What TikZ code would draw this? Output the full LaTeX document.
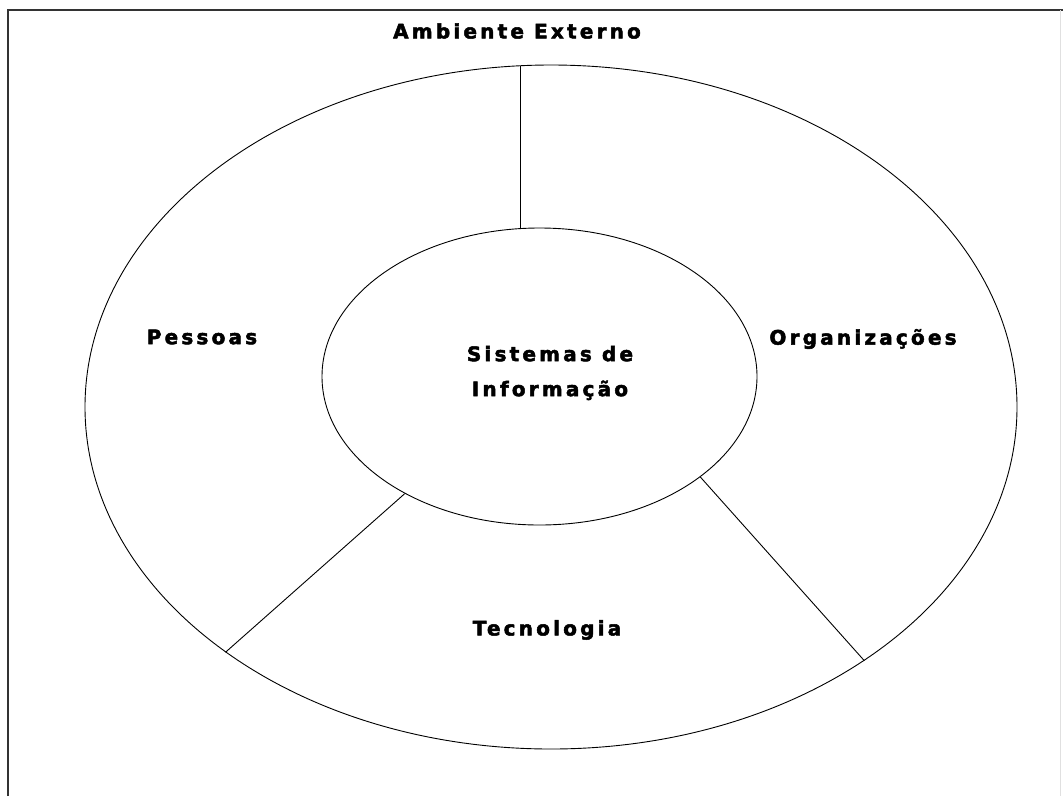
\documentclass[tikz,border=0pt]{standalone}
\usepackage{fontspec}
\setmainfont{Liberation Sans}
\newfontfamily\labelfont[LetterSpace=16,FakeBold=2.5]{DejaVu Sans Bold}
\usetikzlibrary{shapes.geometric}
\begin{document}
\begin{tikzpicture}[x=1pt,y=-1pt,
  ring/.style={draw=black,line width=0.9pt,ellipse,inner sep=0pt},
  lbl/.style={font=\labelfont\fontsize{20}{35}\selectfont,align=center,inner sep=0pt,text=black},
  divider/.style={draw=black,line width=0.9pt}]
  \useasboundingbox (0,0) rectangle (1063,796);
  % frame
  \draw[line width=1.4pt,black!80] (8,796) -- (8,10) -- (1063,10);
  \draw[line width=0.8pt,black!12] (1060,10) -- (1060,796);
  % rings
  \node[ring,minimum width=932pt,minimum height=684pt] (outer) at (551,407) {};
  \node[ring,minimum width=435pt,minimum height=297pt] (inner) at (539.5,376.5) {};
  % dividers between the outer sectors
  \coordinate (topo) at (520,66);
  \coordinate (topi) at (520,228.5);
  \draw[divider] (topo) -- (topi);
  \draw[divider] (inner.221.1) -- (outer.217.6);
  \draw[divider] (inner.328.5) -- (outer.321);
  % labels
  \node[lbl] (amb) at (517,31) {Ambiente Externo};
  \node[lbl] (pes) at (202,337) {Pessoas};
  \node[lbl] (org) at (863,339) {Organizações};
  \node[lbl] (si) at (550,373) {Sistemas de\\Informação};
  \node[lbl] (tec) at (547,630) {Tecnologia};
\end{tikzpicture}
\end{document}
